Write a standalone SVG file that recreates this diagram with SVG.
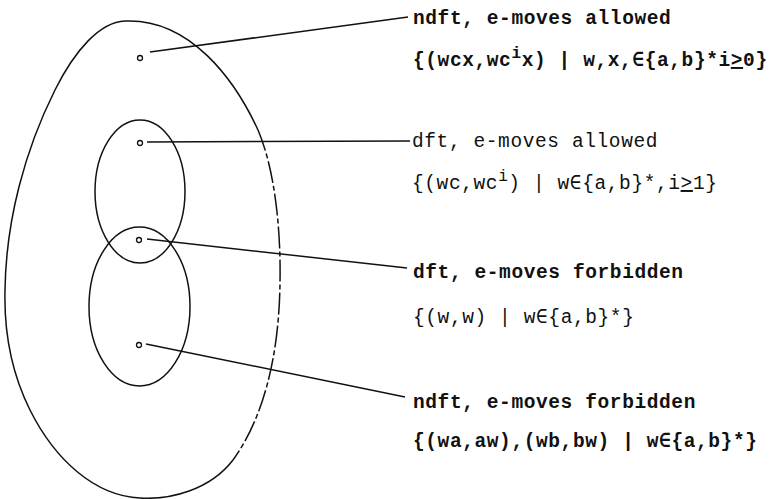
<svg xmlns="http://www.w3.org/2000/svg" width="780" height="499" viewBox="0 0 780 499">
<style>
.ln{fill:none;stroke:#111;stroke-width:1.5}
.dot{fill:#fff;stroke:#111;stroke-width:1.3}
.t{font-family:"Liberation Mono","Courier New",monospace;font-size:19.5px;letter-spacing:0.6px;fill:#111}
.b{font-weight:bold}
.r{font-weight:normal}
.sup{font-size:16px}
</style>
<rect width="780" height="499" fill="#fff"/>
<g id="outer">
<path class="ln" d="M233,460 C210,490 170,500 140,498 C95,496 55,460 30,410 C10,370 4,330 5,290 C6,220 25,150 55,90 C75,50 100,22 125,21 C190,18 235,80 258,130"/>
<path class="ln" stroke-width="1.2" stroke-dasharray="22 3 5 3" d="M258,130 C275,170 281,230 280,283 C279,360 262,420 233,460"/>
</g>
<g id="upper-ellipse"><ellipse class="ln" cx="140" cy="191.5" rx="45" ry="71.5"/></g>
<g id="lower-ellipse"><ellipse class="ln" cx="139.5" cy="306.5" rx="50.5" ry="79.5"/></g>
<g id="connectors">
<line class="ln" x1="150" y1="52" x2="408" y2="17"/>
<line class="ln" x1="147" y1="142" x2="410" y2="141"/>
<line class="ln" x1="147" y1="239" x2="407" y2="268"/>
<line class="ln" x1="146" y1="344" x2="405" y2="397"/>
</g>
<g id="dots">
<circle class="dot" cx="140" cy="58" r="2.5"/>
<circle class="dot" cx="140" cy="143" r="2.5"/>
<circle class="dot" cx="139" cy="240" r="2.5"/>
<circle class="dot" cx="139" cy="345" r="2.5"/>
</g>
<g id="label-ndft-allowed">
<text class="t b" x="413" y="24">ndft, e-moves allowed</text>
<text class="t b" x="413" y="66">{(wcx,wc<tspan class="sup" dy="-8">i</tspan><tspan dy="8">x) | w,x,∈{a,b}*i</tspan><tspan text-decoration="underline">&gt;</tspan>0}</text>
</g>
<g id="label-dft-allowed">
<text class="t r" x="412" y="147">dft, e-moves allowed</text>
<text class="t r" x="412" y="189">{(wc,wc<tspan class="sup" dy="-8">i</tspan><tspan dy="8">) | w∈{a,b}*,i</tspan><tspan text-decoration="underline">&gt;</tspan>1}</text>
</g>
<g id="label-dft-forbidden">
<text class="t b" x="413" y="278">dft, e-moves forbidden</text>
<text class="t r" x="413" y="323">{(w,w) | w∈{a,b}*}</text>
</g>
<g id="label-ndft-forbidden">
<text class="t b" x="413" y="408">ndft, e-moves forbidden</text>
<text class="t b" x="413" y="447">{(wa,aw),(wb,bw) | w∈{a,b}*}</text>
</g>
</svg>
